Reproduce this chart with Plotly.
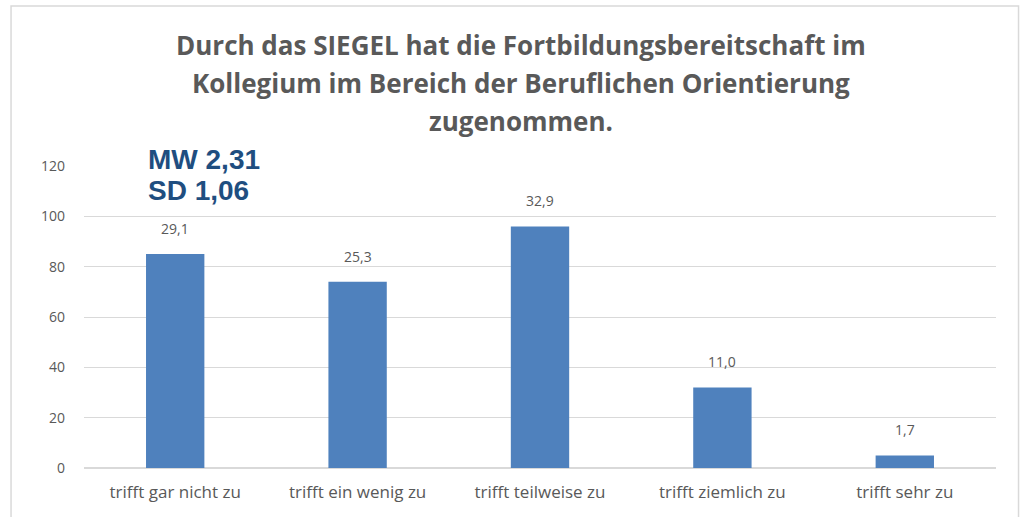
import plotly.graph_objects as go

categories = ["trifft gar nicht zu", "trifft ein wenig zu", "trifft teilweise zu",
              "trifft ziemlich zu", "trifft sehr zu"]
counts = [85, 74, 96, 32, 5]
percent_labels = ["29,1", "25,3", "32,9", "11,0", "1,7"]
y_ticks = [0, 20, 40, 60, 80, 100, 120]
title_lines = ["Durch das SIEGEL hat die Fortbildungsbereitschaft im",
               "Kollegium im Bereich der Beruflichen Orientierung",
               "zugenommen."]
stats_text = ["MW 2,31", "SD 1,06"]

gray = "#595959"
fig = go.Figure()
fig.add_trace(go.Bar(x=categories, y=counts, marker=dict(color="#4f81bd", line=dict(width=0)),
                     width=0.32, hoverinfo="skip"))

for c, v, t in zip(categories, counts, percent_labels):
    fig.add_annotation(x=c, y=v, text=t, showarrow=False, yanchor="bottom", yshift=14,
                       font=dict(family="Open Sans", size=14, color=gray))

title_y = [1.4007, 1.2748, 1.149]
for line, yy in zip(title_lines, title_y):
    fig.add_annotation(x=0.479, y=yy, xref="paper", yref="paper", text="<b>" + line + "</b>",
                       showarrow=False, xanchor="center", yanchor="middle",
                       font=dict(family="Open Sans", size=26, color=gray))

stats_y = [1.0199, 0.9205]
for line, yy in zip(stats_text, stats_y):
    fig.add_annotation(x=0.0679, y=yy, xref="paper", yref="paper", text="<b>" + line + "</b>",
                       showarrow=False, xanchor="left", yanchor="middle",
                       font=dict(family="Liberation Sans", size=28, color="#1f4e80"))

fig.update_layout(
    width=1022, height=517,
    margin=dict(l=84, r=26, t=166, b=49),
    paper_bgcolor="white", plot_bgcolor="white",
    showlegend=False,
    xaxis=dict(showgrid=False, showline=False, ticks="", ticklabelstandoff=12,
               tickfont=dict(family="Open Sans", size=17, color=gray)),
    yaxis=dict(range=[0, 120], tickvals=y_ticks, showgrid=True, gridcolor="#d9d9d9", gridwidth=1,
               zeroline=True, zerolinecolor="#d9d9d9", showline=False, ticks="",
               tickfont=dict(family="Open Sans", size=14, color=gray), ticklabelstandoff=18),
    shapes=[dict(type="rect", xref="paper", yref="paper", x0=-0.08, x1=1.0247, y0=-0.2, y1=1.53,
                 line=dict(color="#d9d9d9", width=1.5), fillcolor="rgba(0,0,0,0)", layer="below")],
)
fig.write_html("out.html", config={"displayModeBar": False},
               post_script="document.body.style.margin='0';")
